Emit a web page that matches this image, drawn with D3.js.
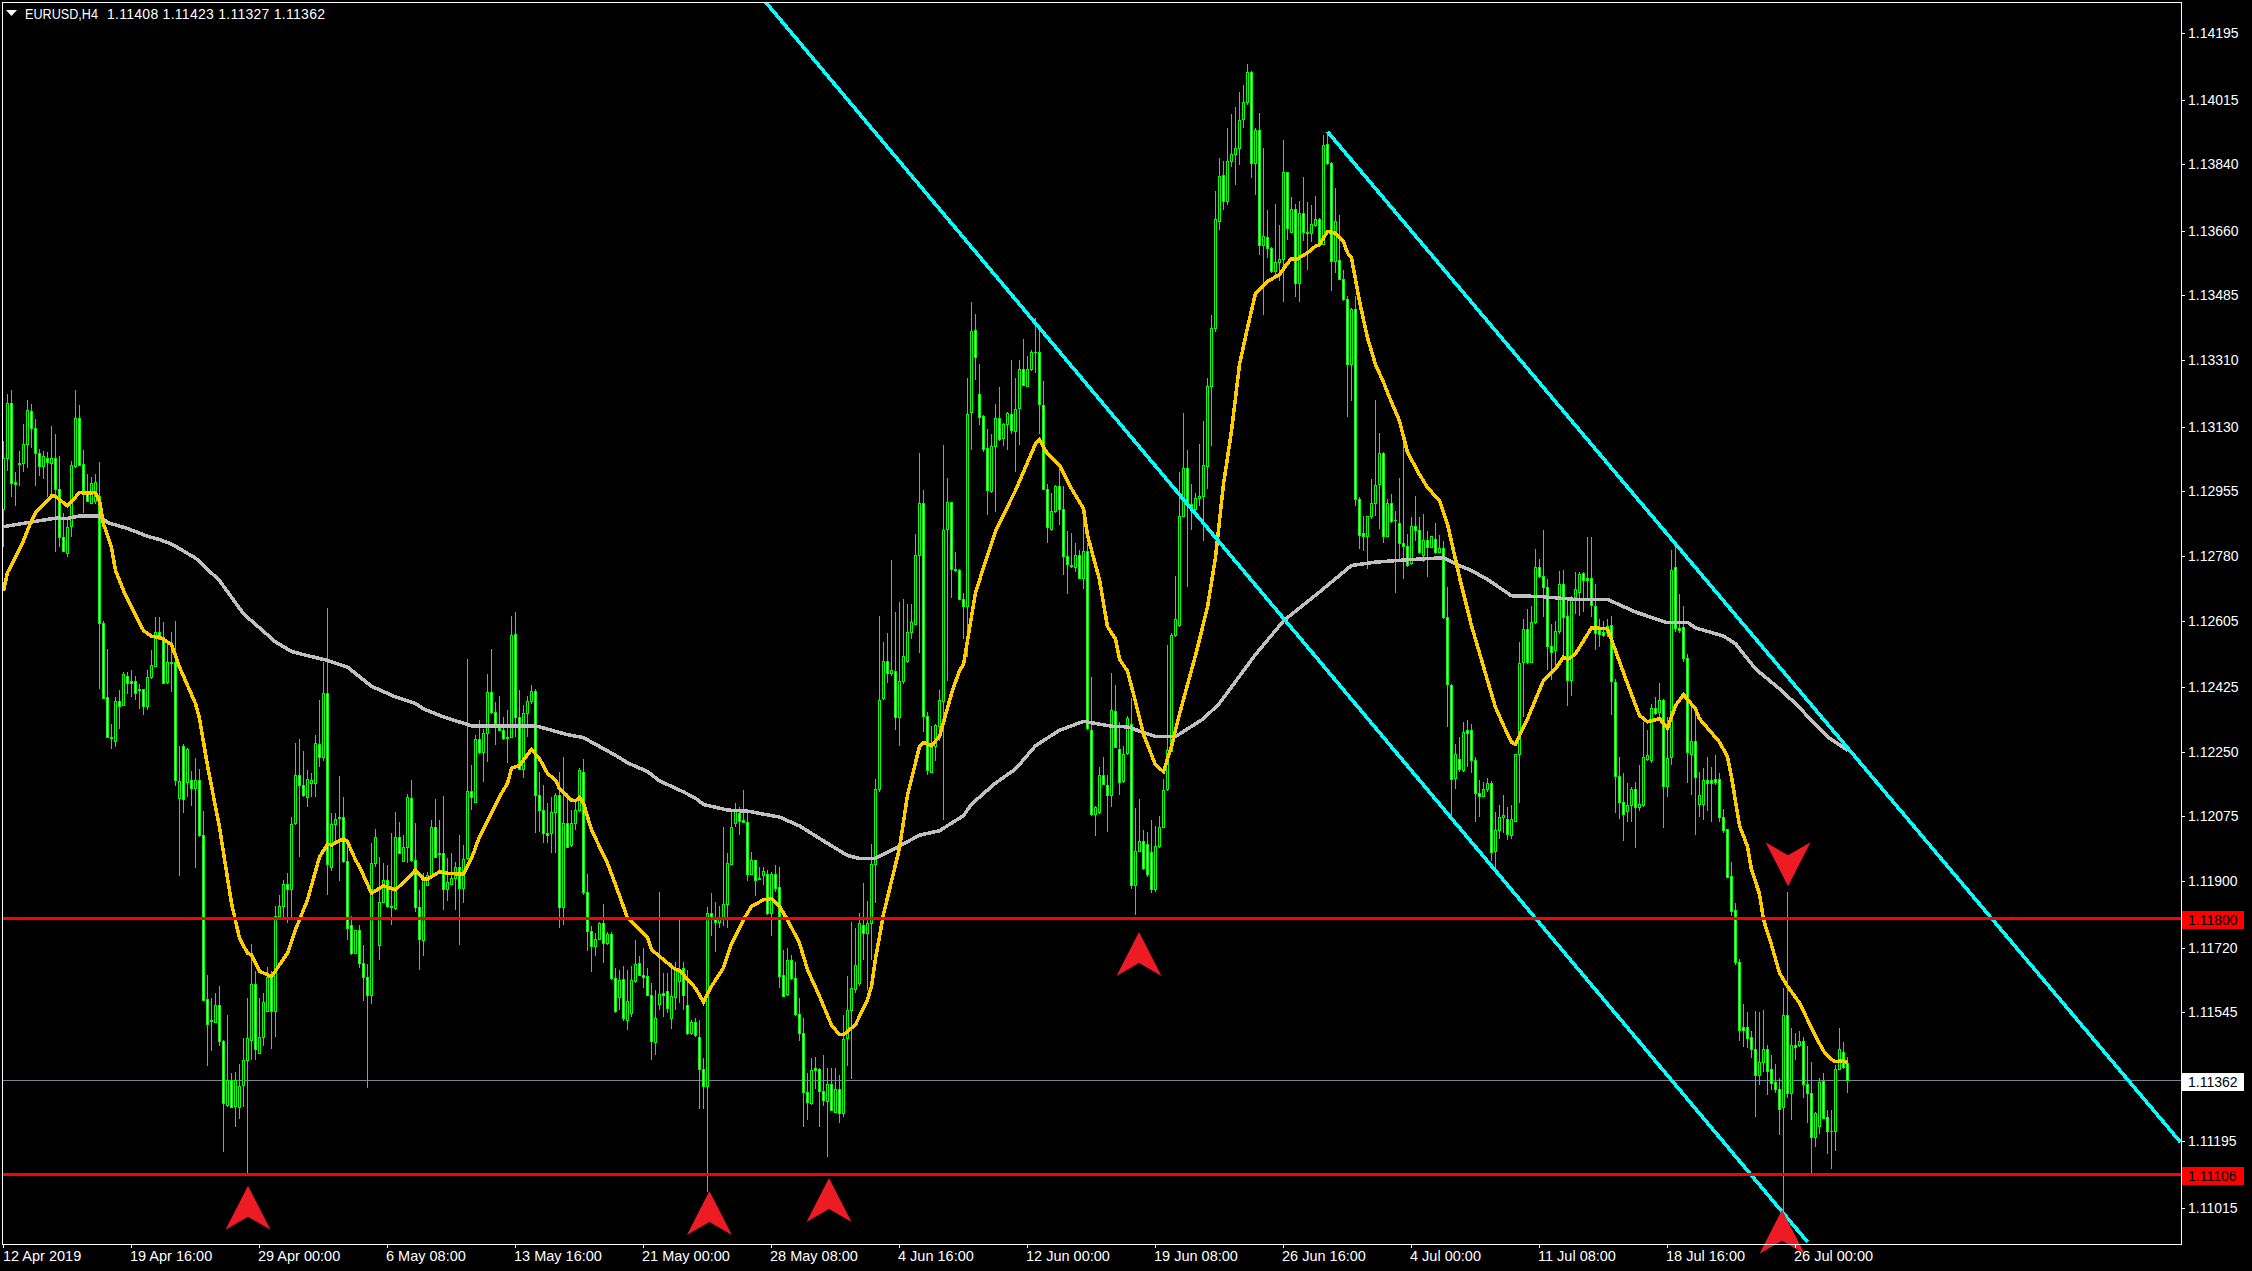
<!DOCTYPE html>
<html><head><meta charset="utf-8">
<style>html,body{margin:0;padding:0;background:#000;overflow:hidden}svg{display:block}text{font-family:"Liberation Sans",Arial,sans-serif;font-size:14px;fill:#fff}</style>
<script src="https://cdn.jsdelivr.net/npm/d3@7"></script>
</head><body><script>
// all prices in points above 1.00000 (price = 1 + value / 100000)
const opens=[
12906,13046,13194,12979,13030,13030,13082,13172,13125,13058,
13022,13046,13032,13044,12960,12830,12787,12860,13022,13152,
13028,12947,12922,12929,12942,12598,12398,12290,12279,12387,
12375,12455,12441,12441,12419,12419,12374,12452,12483,12574,
12560,12438,12492,12492,12125,12266,12168,12173,12153,12174,
12025,11580,11523,11518,11564,11467,11295,11361,11291,11287,
11348,11415,11470,11621,11434,11479,11548,11641,11548,11804,
11833,11891,11878,12056,12186,12159,12128,12166,12166,12272,
12236,12410,11939,12053,12074,12074,11955,11781,11705,11768,
11678,11639,11592,11950,11727,11844,11903,11833,11826,12020,
11955,11991,12125,11957,11829,11741,11890,11917,12045,11977,
11977,11879,11892,11907,11939,11881,11961,12144,12113,12285,
12249,12301,12411,12357,12313,12310,12290,12290,12569,12344,
12202,12355,12387,12414,12132,12092,12029,12031,12087,12132,
11829,12056,11997,12058,12092,12196,11869,11765,11723,11742,
11786,11732,11756,11637,11585,11635,11523,11543,11629,11678,
11646,11644,11592,11464,11566,11597,11601,11530,11586,11630,
11664,11564,11489,11518,11479,11390,11345,11813,11800,11790,
11800,11837,11946,12056,12083,12065,12059,11918,11957,11908,
11917,11918,11813,11918,11885,11646,11594,11687,11637,11539,
11489,11330,11298,11395,11390,11331,11305,11351,11275,11336,
11273,11475,11552,11608,11624,11782,11759,11786,11945,12148,
12396,12495,12462,12468,12343,12440,12496,12574,12596,12783,
12922,12346,12196,12264,12320,12387,12852,12926,12745,12742,
12663,12645,13168,13391,13218,13158,13072,12955,13078,13152,
13098,13138,13164,13117,13179,13287,13241,13285,13331,13333,
13188,12962,12853,12900,12968,12908,12779,12755,12750,12783,
12720,12792,12310,12080,12086,12187,12160,12132,12361,12258,
12170,12246,12324,11890,11980,12009,12000,11979,11877,11994,
12046,12148,12253,12566,12594,12888,13017,12920,12906,12936,
12941,13023,13241,13397,13687,13811,13741,13849,13868,13885,
13961,14009,14090,13844,13932,13620,13642,13613,13550,13575,
13584,13818,13656,13718,13519,13708,13656,13653,13676,13692,
13624,13895,13844,13579,13582,13529,13476,13298,13449,12934,
12841,12833,12887,12924,12974,13058,12833,12923,12877,12870,
12816,12806,12761,12860,12850,12781,12823,12803,12825,12790,
12800,12614,12431,12179,12229,12200,12308,12308,12227,12139,
12130,12148,12166,11980,12038,12074,12069,12024,12063,12245,
12492,12582,12494,12600,12751,12725,12697,12537,12524,12576,
12704,12618,12445,12668,12682,12734,12720,12720,12645,12578,
12575,12575,12593,12438,12185,12115,12090,12105,12148,12099,
12105,12229,12227,12369,12357,12389,12158,12236,12751,12585,
12587,12504,12245,12279,12108,12108,12173,12173,12175,12175,
12072,12040,11914,11822,11682,11505,11505,11478,11444,11376,
11411,11444,11392,11357,11338,11287,11538,11327,11456,11457,
11466,11351,11327,11208,11237,11360,11262,11224,11223,11392,
11438,11408];
const closes=[
13046,13194,12977,12975,13028,13082,13174,13125,13058,13022,
13049,13035,13044,12960,12830,12792,12859,13025,13152,13026,
12954,12929,12977,12979,12598,12396,12290,12286,12387,12373,
12459,12437,12437,12410,12418,12374,12452,12485,12574,12555,
12437,12492,12490,12173,12171,12123,12256,12151,12174,12025,
11579,11513,11520,11564,11467,11299,11361,11289,11361,11346,
11415,11474,11621,11444,11479,11572,11641,11548,11804,11833,
11891,11878,12053,12186,12159,12134,12175,12173,12274,12236,
12410,11945,12053,12069,12070,11955,11772,11705,11768,11678,
11639,11592,11950,12018,11844,11903,11831,11830,12020,11977,
11991,12128,11957,11829,11743,11903,11917,12045,11966,11973,
11879,11898,11907,11939,11881,11959,12144,12126,12285,12249,
12301,12411,12357,12328,12310,12288,12288,12566,12344,12204,
12355,12387,12414,12132,12092,12029,12024,12087,12132,11829,
12056,11993,12058,12092,12200,11869,11765,11723,11742,11786,
11732,11756,11637,11548,11632,11530,11575,11631,11676,11646,
11640,11592,11466,11530,11594,11592,11556,11590,11660,11660,
11592,11489,11518,11484,11390,11346,11813,11800,11790,11800,
11837,11948,12045,12092,12063,12059,11918,11957,11903,11906,
11926,11813,11918,11880,11642,11588,11687,11637,11539,11489,
11330,11302,11388,11388,11331,11307,11351,11280,11336,11273,
11473,11552,11610,11674,11786,11759,11786,11945,12148,12390,
12495,12462,12470,12343,12440,12508,12574,12600,12783,12922,
12346,12200,12264,12322,12390,12850,12927,12745,12742,12663,
12645,13164,13388,13317,13157,13069,12957,13076,13153,13095,
13138,13166,13120,13177,13285,13243,13287,13331,13333,13190,
12962,12858,12900,12970,12908,12779,12757,12753,12781,12720,
12792,12313,12080,12101,12187,12163,12134,12363,12262,12167,
12244,12341,11890,11980,12008,11934,11918,11879,11994,12046,
12145,12255,12566,12610,12889,13017,12920,12915,12936,12941,
13025,13241,13397,13692,13808,13741,13849,13868,13885,13960,
14009,14090,13844,13932,13620,13646,13613,13550,13575,13584,
13818,13667,13718,13519,13708,13656,13654,13679,13692,13622,
13892,13844,13579,13687,13529,13475,13298,13449,12934,12836,
12833,12887,12924,12971,13058,12833,12923,12873,12876,12816,
12806,12756,12860,12850,12790,12823,12803,12833,12790,12801,
12614,12434,12177,12245,12202,12304,12301,12227,12139,12130,
12148,12166,11978,12038,12074,12078,12027,12067,12245,12490,
12582,12492,12600,12751,12725,12697,12536,12519,12576,12704,
12614,12445,12668,12690,12731,12715,12715,12647,12571,12569,
12566,12589,12440,12185,12115,12080,12107,12150,12099,12108,
12236,12241,12369,12355,12389,12158,12234,12742,12585,12580,
12504,12248,12279,12182,12132,12173,12164,12166,12169,12072,
12038,11912,11820,11682,11498,11496,11475,11446,11376,11411,
11444,11385,11354,11338,11284,11536,11327,11456,11451,11466,
11351,11327,11208,11273,11357,11259,11224,11223,11392,11444,
11397,11362];
const highs=[
13091,13217,13230,13006,13064,13136,13201,13190,13150,13068,
13064,13060,13131,13109,13050,12896,12884,13037,13228,13188,
13066,13001,12994,13001,13034,12605,12528,12324,12398,12416,
12465,12465,12470,12456,12434,12420,12470,12524,12614,12614,
12600,12542,12574,12605,12266,12271,12261,12197,12232,12202,
12089,11646,11582,11597,11617,11469,11538,11380,11383,11405,
11474,11582,11730,11656,11582,11597,11666,11656,11833,11863,
11903,11921,12072,12274,12285,12251,12200,12193,12294,12389,
12492,12639,12083,12083,12184,12126,12015,11804,11768,11780,
11727,11675,12002,12041,11966,11948,11943,12029,12087,12061,
12025,12135,12173,12056,11876,11921,11925,12065,12121,12065,
12130,11961,11975,11952,12024,11998,12502,12213,12294,12335,
12312,12461,12528,12384,12402,12344,12362,12618,12627,12416,
12376,12402,12430,12420,12196,12160,12110,12128,12137,12196,
12236,12137,12092,12119,12205,12231,11919,11777,11759,11790,
11838,11763,11763,11664,11660,11669,11660,11669,11741,11696,
11719,11664,11624,11606,11871,11651,11651,11678,11682,11795,
11682,11660,11523,11528,11523,11420,11830,11867,11844,11831,
12047,11975,12092,12110,12101,12146,12087,11979,11957,11939,
11939,11930,11925,11943,11939,11714,11719,11700,11682,11584,
11528,11381,11421,11424,11394,11428,11394,11394,11394,11376,
11537,11642,11790,11772,11813,11895,11846,12000,12176,12616,
12548,12572,12770,12627,12655,12663,12649,12649,12838,13059,
12957,12357,12319,12324,12418,13080,12992,12926,12790,12745,
12680,13260,13468,13435,13298,13160,13122,13111,13190,13237,
13140,13170,13311,13262,13309,13366,13320,13337,13424,13397,
13252,12974,12949,12973,13023,12968,12847,12841,12816,12797,
12896,12814,12451,12103,12209,12236,12187,12462,12431,12330,
12264,12346,12396,12097,12123,12038,12033,12066,12049,12077,
12176,12539,12570,12726,13007,13166,13066,12974,12951,13082,
13145,13262,13431,13768,13856,13849,13939,13977,13996,14034,
14054,14111,14092,13939,13979,13885,13715,13615,13733,13676,
13906,13820,13750,13733,13739,13806,13737,13730,13754,13694,
13919,13923,13846,13775,13703,13554,13482,13452,13482,12940,
12888,12888,12987,13203,13112,13060,12933,12947,12902,12992,
13113,12839,12884,12942,12884,12893,12848,12835,12870,12837,
12820,12697,12434,12272,12290,12330,12337,12326,12236,12173,
12168,12178,12170,12088,12106,12133,12101,12106,12070,12546,
12609,12637,12645,12798,12771,12850,12717,12596,12603,12740,
12742,12659,12672,12736,12736,12737,12832,12832,12704,12610,
12605,12610,12618,12447,12236,12191,12164,12154,12168,12213,
12330,12308,12380,12398,12436,12392,12344,12796,12812,12677,
12645,12515,12371,12371,12195,12205,12236,12209,12240,12191,
12096,12042,11952,11840,11689,11568,11545,11495,11547,11545,
11552,11455,11430,11406,11367,11610,11871,11502,11489,11495,
11478,11453,11411,11276,11367,11381,11280,11279,11403,11502,
11465,11423];
const lows=[
12803,13010,12938,12915,12969,13006,13019,13073,12968,12996,
12988,12938,12942,12790,12803,12790,12778,12830,13019,13024,
12897,12925,12922,12920,12420,12396,12290,12256,12263,12312,
12375,12407,12398,12389,12366,12349,12362,12447,12479,12551,
12434,12434,12411,12158,11914,12084,12128,12104,11936,12020,
11577,11400,11439,11518,11454,11166,11287,11287,11233,11257,
11287,11106,11415,11415,11434,11454,11548,11444,11479,11799,
11800,11786,11800,12052,11966,12128,12101,12128,12128,12209,
12225,11862,11927,12002,11901,11948,11741,11700,11705,11664,
11574,11341,11567,11939,11687,11844,11826,11781,11822,11975,
11952,11948,11952,11817,11660,11696,11890,11912,11961,11921,
11822,11845,11890,11822,11727,11840,11957,12092,12110,12245,
12168,12222,12353,12267,12308,12281,12218,12286,12290,12200,
12178,12290,12380,12029,12033,12002,12002,11975,11975,11772,
11781,11988,11993,12038,12087,11862,11710,11655,11696,11741,
11678,11727,11633,11543,11552,11520,11498,11533,11624,11642,
11610,11588,11415,11430,11552,11533,11543,11500,11552,11570,
11552,11484,11484,11479,11282,11282,11057,11750,11707,11772,
11777,11772,11943,12047,12024,12056,11901,11916,11860,11903,
11890,11808,11750,11871,11610,11585,11588,11633,11534,11467,
11234,11253,11295,11336,11234,11291,11153,11277,11273,11246,
11260,11399,11363,11597,11615,11687,11606,11687,11840,12140,
12390,12435,12456,12308,12264,12434,12490,12555,12594,12517,
12302,12187,12192,12225,12280,12066,12440,12665,12737,12660,
12555,12506,13067,13256,13133,13061,12891,12951,12899,13091,
13078,13067,13111,13006,13080,13240,13237,13281,13276,13111,
12957,12814,12847,12896,12863,12729,12676,12748,12737,12717,
12690,12308,12077,12022,12082,12160,12033,12099,12260,12132,
12165,12242,11879,11807,11978,11929,11912,11868,11870,11989,
12044,12143,12250,12561,12588,12884,12695,12850,12902,12915,
12821,12960,13077,13386,13661,13716,13729,13833,13784,13838,
13939,14000,13802,13757,13593,13433,13586,13545,13532,13523,
13467,13635,13653,13480,13467,13631,13554,13629,13670,13617,
13620,13838,13496,13545,13527,13469,13157,13199,12914,12798,
12794,12744,12880,12889,12852,12814,12830,12870,12679,12762,
12717,12750,12755,12821,12785,12762,12722,12800,12785,12787,
12610,12317,12074,12150,12195,12195,12209,12191,12060,12074,
12128,12140,11953,11934,12015,12029,12011,12015,12060,12110,
12344,12488,12490,12596,12720,12614,12470,12443,12474,12569,
12497,12374,12401,12623,12618,12628,12659,12614,12526,12533,
12560,12560,12349,12083,12069,12009,12060,12060,11990,12090,
12100,12225,12220,12350,12335,12044,12128,12214,12573,12570,
12492,12164,12133,12025,12074,12065,12090,12060,12160,12060,
12030,11907,11804,11673,11466,11451,11448,11420,11262,11347,
11383,11320,11334,11327,11213,11007,11313,11253,11415,11450,
11313,11246,11111,11180,11214,11255,11160,11120,11169,11388,
11390,11327];
const dateLabels=["12 Apr 2019","19 Apr 16:00","29 Apr 00:00","6 May 08:00","13 May 16:00","21 May 00:00","28 May 08:00","4 Jun 16:00","12 Jun 00:00","19 Jun 08:00","26 Jun 16:00","4 Jul 00:00","11 Jul 08:00","18 Jul 16:00","26 Jul 00:00"];
const barsPerDateTick=32;
const priceTicks=[14195,14015,13840,13660,13485,13310,13130,12955,12780,12605,12425,12250,12075,11900,11720,11545,11370,11195,11015];
const hiddenPriceLabels=[11370];
const fastBars=[0,1,3,5,7,8,11,12,13,16,19,21,23,24,25,27,28,30,32,35,37,39,42,44,48,49,51,54,57,59,61,62,64,67,69,71,73,76,79,81,82,85,86,88,89,92,95,96,98,101,103,105,106,109,111,115,117,119,124,126,127,129,132,134,136,138,139,142,143,144,145,147,151,153,156,161,162,164,168,169,173,175,177,180,182,185,187,190,192,194,196,199,201,204,207,209,210,213,216,217,218,220,224,226,229,230,232,234,237,239,240,243,245,246,248,253,258,259,261,264,267,270,271,274,276,278,279,281,283,285,288,290,292,294,298,301,303,305,307,309,311,313,316,319,321,322,323,326,328,329,331,333,335,336,337,339,341,343,345,346,349,351,354,356,359,361,364,367,371,373,375,377,378,380,381,385,388,390,391,393,397,401,406,409,411,414,416,418,420,423,424,429,431,432,434,436,437,439,440,442,444,446,449,451,453,455,457,458,460,461];
const fastMA=[12686,12735,12776,12821,12875,12897,12929,12942,12941,12915,12951,12950,12951,12929,12866,12803,12740,12686,12641,12578,12562,12560,12540,12479,12380,12340,12212,12045,11840,11745,11705,11700,11656,11641,11673,11705,11768,11849,11965,12000,11997,12015,12006,11957,11939,11867,11887,11883,11876,11907,11930,11905,11905,11925,11921,11918,11961,12020,12128,12164,12205,12213,12256,12231,12191,12173,12150,12119,12117,12126,12110,12038,11948,11890,11800,11746,11714,11696,11660,11658,11610,11572,11615,11665,11730,11795,11831,11849,11853,11831,11795,11732,11660,11588,11510,11484,11484,11511,11579,11615,11690,11810,11989,12132,12264,12275,12266,12291,12407,12470,12486,12680,12748,12781,12847,12957,13083,13094,13056,13025,12962,12908,12836,12715,12588,12555,12500,12468,12385,12297,12214,12196,12264,12352,12510,12641,12776,12974,13118,13298,13397,13491,13523,13541,13572,13584,13581,13600,13618,13622,13658,13653,13631,13600,13586,13469,13370,13298,13250,13222,13145,13060,13000,12965,12929,12866,12722,12591,12443,12370,12321,12276,12270,12317,12339,12443,12474,12506,12499,12515,12585,12583,12434,12348,12331,12339,12314,12375,12404,12366,12339,12276,12236,12182,12050,11993,11930,11865,11795,11727,11651,11615,11570,11525,11480,11440,11417,11411,11414,11408];
const slowBars=[0,4,9,13,16,19,24,26,31,36,39,42,48,54,60,68,72,76,81,86,92,98,103,105,110,117,127,133,141,145,153,156,161,164,170,173,175,181,186,189,194,199,206,211,214,218,222,229,234,240,242,248,253,258,264,270,277,281,288,293,300,304,313,320,329,337,343,352,360,363,367,371,377,384,393,401,408,416,421,423,430,433,438,444,448,456,461];
const slowMA=[12859,12866,12875,12882,12881,12888,12888,12870,12854,12833,12824,12812,12774,12713,12623,12547,12521,12510,12497,12479,12427,12398,12380,12366,12344,12320,12320,12320,12296,12288,12240,12220,12196,12171,12141,12124,12107,12092,12089,12083,12073,12049,12002,11969,11961,11961,11983,12024,12036,12077,12108,12165,12203,12266,12308,12332,12319,12317,12291,12291,12339,12381,12513,12604,12682,12754,12763,12770,12775,12758,12740,12716,12672,12670,12662,12662,12628,12599,12600,12585,12563,12542,12474,12420,12380,12290,12254];
const channelUpperBars=[331,544.25];
const channelUpper=[13928,11193];
const channelLowerBars=[190.5,451];
const channelLower=[14279,10923];
const levels=[11800,11106];
const lastPrice=11362;
const upArrowBars=[61.25,176.6,206.5,284,444.75];
const upArrowTips=[11075,11061,11096,11762,11010];
const downArrowBars=[446.25];
const downArrowTips=[11886];
const headerSymbol="EURUSD,H4";
const headerPrices="1.11408 1.11423 1.11327 1.11362";

const W=2252,H=1271,L=2,R=2181,T=2,B=1244;
const x=d3.scaleLinear().domain([0,461]).range([3,1847]);
const y=d3.scaleLinear().domain([11015,14195]).range([1208,33]);
const fmt=v=>(1+v/100000).toFixed(5);
const svg=d3.select("body").append("svg").attr("width",W).attr("height",H);
svg.append("rect").attr("width",W).attr("height",H).attr("fill","#000");
svg.append("defs").append("clipPath").attr("id","plot").append("rect").attr("x",L+1).attr("y",T+1).attr("width",R-L-1).attr("height",B-T-1);
const plot=svg.append("g").attr("clip-path","url(#plot)").attr("shape-rendering","crispEdges");

// current price line
plot.append("line").attr("x1",L).attr("x2",R).attr("y1",Math.round(y(lastPrice))+.5).attr("y2",Math.round(y(lastPrice))+.5).attr("stroke","#778899");

// candles
const n=Math.min(opens.length,closes.length,highs.length,lows.length);
const bars=plot.append("g").selectAll("g").data(d3.range(n)).join("g");
const px=i=>Math.round(x(i));
bars.append("rect").attr("x",px).attr("width",1)
  .attr("y",i=>Math.round(y(highs[i]))).attr("height",i=>Math.max(1,Math.round(y(lows[i]))-Math.round(y(highs[i]))));
bars.append("rect").attr("x",i=>px(i)-1).attr("width",3)
  .attr("y",i=>Math.round(y(Math.max(opens[i],closes[i]))))
  .attr("height",i=>Math.max(1,Math.round(y(Math.min(opens[i],closes[i])))-Math.round(y(Math.max(opens[i],closes[i])))+1));
bars.selectAll("rect").attr("fill","#00ff00");
bars.append("rect").attr("x",px).attr("width",1)
  .attr("y",i=>Math.round(y(Math.max(opens[i],closes[i])))+1)
  .attr("height",i=>Math.max(0,Math.round(y(Math.min(opens[i],closes[i])))-Math.round(y(Math.max(opens[i],closes[i])))-1))
  .attr("fill",i=>closes[i]<opens[i]?"#fff":"#000");

// moving averages
const ln=(bs,vs)=>d3.line().x((d,i)=>x(bs[i])+.5).y(d=>y(d))(vs);
plot.append("path").attr("d",ln(slowBars,slowMA)).attr("fill","none").attr("stroke","#c0c0c0").attr("stroke-width",3.5);
plot.append("path").attr("d",ln(fastBars,fastMA)).attr("fill","none").attr("stroke","#ffcc00").attr("stroke-width",3.5);

// trend channel
plot.append("path").attr("d",ln(channelUpperBars,channelUpper)).attr("fill","none").attr("stroke","#00ffff").attr("stroke-width",3.6);
plot.append("path").attr("d",ln(channelLowerBars,channelLower)).attr("fill","none").attr("stroke","#00ffff").attr("stroke-width",3.6);

// horizontal levels
plot.selectAll(".lvl").data(levels).join("rect").attr("x",L).attr("width",R-L)
  .attr("y",d=>Math.round(y(d))-1).attr("height",3).attr("fill","#ff0000");

// arrows
const arrow=(s)=>`M0,0L${-22.5*s.w},${44*s.d}L0,${31*s.d}L${22.5*s.w},${44*s.d}Z`;
svg.append("g").selectAll("path").data(upArrowBars).join("path")
  .attr("transform",(d,i)=>`translate(${x(d)},${y(upArrowTips[i])})`).attr("d",arrow({w:1,d:1})).attr("fill","#ed1c24");
svg.append("g").selectAll("path").data(downArrowBars).join("path")
  .attr("transform",(d,i)=>`translate(${x(d)},${y(downArrowTips[i])})`).attr("d",arrow({w:1,d:-1})).attr("fill","#ed1c24");

// frame
const frame=svg.append("g").attr("shape-rendering","crispEdges").attr("stroke","#fff");
frame.append("line").attr("x1",L+.5).attr("x2",L+.5).attr("y1",T).attr("y2",B+1);
frame.append("line").attr("x1",L).attr("x2",R+1).attr("y1",T+.5).attr("y2",T+.5);
frame.append("line").attr("x1",R+.5).attr("x2",R+.5).attr("y1",T).attr("y2",B+1);
frame.append("line").attr("x1",L).attr("x2",R+1).attr("y1",B+.5).attr("y2",B+.5);

// price axis
const pa=svg.append("g");
pa.selectAll("line").data(priceTicks).join("line").attr("shape-rendering","crispEdges").attr("stroke","#fff")
  .attr("x1",R).attr("x2",R+4).attr("y1",d=>Math.round(y(d))+.5).attr("y2",d=>Math.round(y(d))+.5);
pa.selectAll("text").data(priceTicks.filter(d=>!hiddenPriceLabels.includes(d))).join("text").attr("x",2188).attr("y",d=>y(d)+5).text(fmt);

// price boxes
const box=(v,fill)=>{const g=svg.append("g");
 g.append("rect").attr("x",2182).attr("width",62).attr("y",Math.round(y(v))-7).attr("height",18).attr("fill",fill);
 g.append("text").attr("x",2188).attr("y",y(v)+7).style("fill","#000").text(fmt(v));};
levels.forEach(v=>box(v,"#ff0000"));
box(lastPrice,"#ffffff");

// date axis
const da=svg.append("g");
da.selectAll("line").data(dateLabels).join("line").attr("shape-rendering","crispEdges").attr("stroke","#fff")
  .attr("x1",(d,i)=>px(i*barsPerDateTick)+.5).attr("x2",(d,i)=>px(i*barsPerDateTick)+.5).attr("y1",B).attr("y2",B+4);
da.selectAll("text").data(dateLabels).join("text").attr("x",(d,i)=>px(i*barsPerDateTick)+(i?-1:0)).attr("y",1261).style("font-size","14.5px").text(d=>d);

// header
svg.append("path").attr("d","M6,10L17,10L11.5,16Z").attr("fill","#fff");
svg.append("text").attr("x",25).attr("y",19).attr("textLength",73).attr("lengthAdjust","spacingAndGlyphs").text(headerSymbol);
svg.append("text").attr("x",107).attr("y",19).attr("textLength",218).text(headerPrices);
</script></body></html>
